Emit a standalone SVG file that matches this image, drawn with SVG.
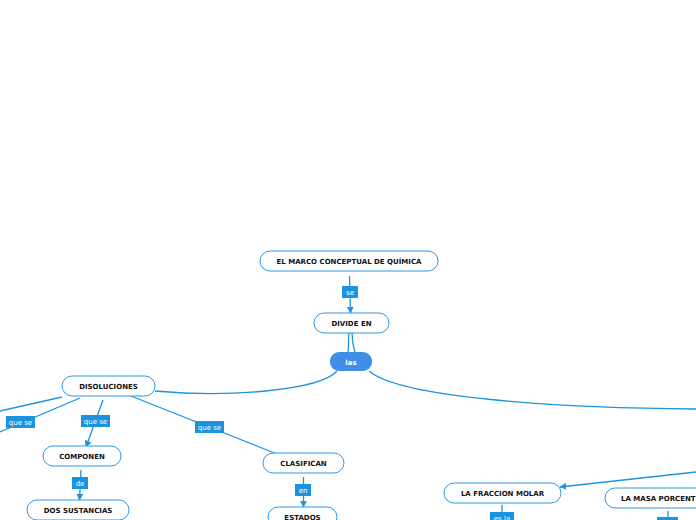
<svg xmlns="http://www.w3.org/2000/svg" width="696" height="520" viewBox="0 0 696 520">
<style>
.n{fill:#fff;stroke:#2e9ae4;stroke-width:1}
.t{font-family:"DejaVu Sans",Verdana,sans-serif;font-weight:bold;font-size:7px;fill:#111;text-anchor:middle}
.c{fill:none;stroke:#1f93e0;stroke-width:1.3}
.lb{fill:#1b93e0}
.lt{font-family:"DejaVu Sans",Verdana,sans-serif;font-size:7px;fill:#fff;text-anchor:middle}
</style>
<defs>
<marker id="a" viewBox="0 0 10 10" refX="9" refY="5" markerWidth="7" markerHeight="7" markerUnits="userSpaceOnUse" orient="auto">
<path d="M0,0 L10,5 L0,10 z" fill="#1f93e0"/>
</marker>
</defs>
<rect width="696" height="520" fill="#fff"/>
<g id="connectors">
<path class="c" d="M349.5,276 L350.5,313" marker-end="url(#a)"/>
<path class="c" d="M349,333 C348,340 349,346 348,352"/>
<path class="c" d="M352,333 C352,340 353,346 355,352"/>
<path class="c" d="M337,371 C320,390 230,398 155,391"/>
<path class="c" d="M369,371 C400,398 560,408 696,409"/>
<path class="c" d="M62,397 L0,411"/>
<path class="c" d="M80,398 L0,432"/>
<path class="c" d="M103,400 L86,447" marker-end="url(#a)"/>
<path class="c" d="M131,396 L277,454"/>
<path class="c" d="M81,470 L79.5,500" marker-end="url(#a)"/>
<path class="c" d="M303.5,477 L303.5,507" marker-end="url(#a)"/>
<path class="c" d="M696,472 L560,487" marker-end="url(#a)"/>
<path class="c" d="M502,505 L502,513"/>
<path class="c" d="M668,511 L668,518"/>
<g id="lbl-se"><rect class="lb" x="342" y="286" width="16" height="12"/><text class="lt" x="350" y="294.5">se</text></g>
<g id="lbl-queseA"><rect class="lb" x="6" y="416" width="29" height="12"/><text class="lt" x="20.5" y="424.5">que se</text></g>
<g id="lbl-queseB"><rect class="lb" x="81" y="415" width="29" height="12"/><text class="lt" x="95.5" y="423.5">que se</text></g>
<g id="lbl-queseC"><rect class="lb" x="195" y="421" width="29" height="12"/><text class="lt" x="209.5" y="429.5">que se</text></g>
<g id="lbl-de"><rect class="lb" x="72" y="477" width="16" height="12"/><text class="lt" x="80" y="485.5">de</text></g>
<g id="lbl-en"><rect class="lb" x="295" y="484" width="16" height="12"/><text class="lt" x="303" y="492.5">en</text></g>
<g id="lbl-esla"><rect class="lb" x="490" y="512" width="24" height="12"/><text class="lt" x="502" y="520.5">es la</text></g>
<g id="lbl-x"><rect class="lb" x="657" y="517" width="21" height="12"/></g>
</g>
<g id="n-marco"><rect class="n" x="260" y="251" width="178" height="20" rx="10"/><text class="t" x="349" y="263.5">EL MARCO CONCEPTUAL DE QUÍMICA</text></g>
<g id="n-divide"><rect class="n" x="314" y="313" width="75" height="20" rx="10"/><text class="t" x="351.5" y="325.5">DIVIDE EN</text></g>
<g id="n-las"><rect x="330" y="352" width="42" height="19" rx="9" fill="#3f8fe8"/><text class="t" x="351" y="364.5" style="fill:#fff">las</text></g>
<g id="n-disol"><rect class="n" x="62" y="376" width="93" height="20" rx="10"/><text class="t" x="108.5" y="388.5">DISOLUCIONES</text></g>
<g id="n-componen"><rect class="n" x="43" y="446" width="78" height="20" rx="10"/><text class="t" x="82" y="458.5">COMPONEN</text></g>
<g id="n-dos"><rect class="n" x="27" y="500" width="102" height="20" rx="10"/><text class="t" x="78" y="512.5">DOS SUSTANCIAS</text></g>
<g id="n-clasif"><rect class="n" x="263" y="453" width="81" height="20" rx="10"/><text class="t" x="303.5" y="465.5">CLASIFICAN</text></g>
<g id="n-estados"><rect class="n" x="268" y="507" width="69" height="20" rx="10"/><text class="t" x="302.5" y="519.5">ESTADOS</text></g>
<g id="n-fraccion"><rect class="n" x="444" y="483" width="117" height="20" rx="10"/><text class="t" x="502.5" y="495.5">LA FRACCION MOLAR</text></g>
<g id="n-masa"><rect class="n" x="605" y="488" width="130" height="20" rx="10"/><text class="t" x="621" y="500.5" style="text-anchor:start">LA MASA PORCENT</text></g>
</svg>
